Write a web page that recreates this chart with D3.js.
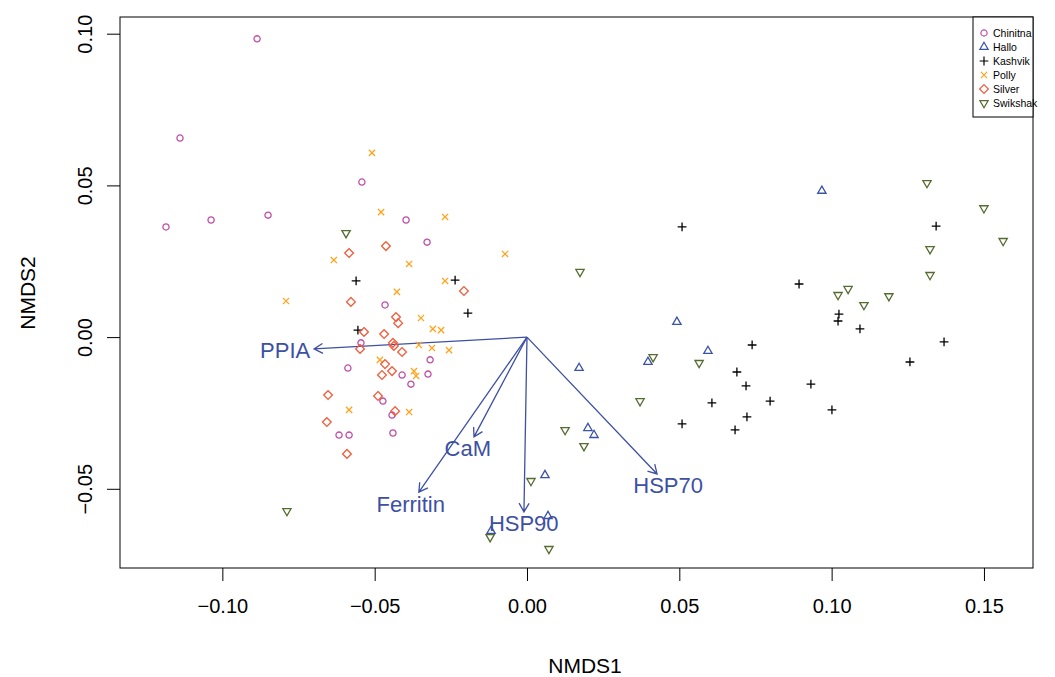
<!doctype html>
<html>
<head>
<meta charset="utf-8">
<style>
    body { margin: 0; background: #fff; }
    text { font-family: "Liberation Sans", Arial, sans-serif; }
</style>
<script src="https://d3js.org/d3.v7.min.js"></script>
</head>
<body>
<svg id="chart" width="1055" height="677"></svg>
<script>
    // site groups and their NMDS scores [NMDS1, NMDS2]
    var sites = ["Chinitna", "Hallo", "Kashvik", "Polly", "Silver", "Swikshak"];
    var siteColors = ["#bd4fa7", "#3b53a4", "#000000", "#ffa31a", "#f25c3c", "#556b2f"];
    var siteShapes = ["circle", "triangleUp", "plus", "cross", "diamond", "triangleDown"];

    var chinitna = [[-0.0886,0.0983],[-0.1139,0.0656],[-0.1185,0.0363],[-0.1037,0.0386],[-0.0850,0.0402],
        [-0.0542,0.0511],[-0.0397,0.0386],[-0.0328,0.0313],[-0.0466,0.0106],[-0.0545,-0.0019],
        [-0.0588,-0.0102],[-0.0318,-0.0075],[-0.0410,-0.0125],[-0.0325,-0.0122],[-0.0381,-0.0155],
        [-0.0473,-0.0211],[-0.0443,-0.0257],[-0.0617,-0.0323],[-0.0584,-0.0323],[-0.0440,-0.0316]];
    var hallo = [[0.0968,0.0482],[0.0492,0.0050],[0.0594,-0.0046],[0.0397,-0.0082],[0.0171,-0.0102],
        [0.0200,-0.0300],[0.0220,-0.0323],[0.0059,-0.0455],[0.0069,-0.0590],[-0.0118,-0.0639]];
    var kashvik = [[-0.0561,0.0185],[-0.0236,0.0188],[-0.0194,0.0079],[-0.0555,0.0023],[0.0509,0.0363],
        [0.0739,-0.0026],[0.0689,-0.0115],[0.0719,-0.0161],[0.0607,-0.0217],[0.0798,-0.0211],
        [0.0509,-0.0286],[0.0722,-0.0263],[0.0683,-0.0306],[0.0893,0.0175],[0.1024,0.0076],
        [0.1021,0.0053],[0.1093,0.0027],[0.0932,-0.0155],[0.1001,-0.0240],[0.1343,0.0366],
        [0.1369,-0.0016],[0.1257,-0.0082]];
    var polly = [[-0.0509,0.0607],[-0.0479,0.0412],[-0.0269,0.0396],[-0.0634,0.0254],[-0.0072,0.0274],
        [-0.0387,0.0241],[-0.0791,0.0119],[-0.0427,0.0149],[-0.0269,0.0185],[-0.0348,0.0063],
        [-0.0309,0.0027],[-0.0282,0.0023],[-0.0355,-0.0026],[-0.0312,-0.0036],[-0.0256,-0.0043],
        [-0.0483,-0.0075],[-0.0371,-0.0112],[-0.0364,-0.0128],[-0.0584,-0.0240],[-0.0387,-0.0247]];
    var silver = [[-0.0463,0.0300],[-0.0584,0.0277],[-0.0207,0.0152],[-0.0578,0.0116],[-0.0430,0.0066],
        [-0.0423,0.0046],[-0.0535,0.0017],[-0.0469,0.0010],[-0.0440,-0.0019],[-0.0437,-0.0029],
        [-0.0410,-0.0049],[-0.0548,-0.0039],[-0.0466,-0.0089],[-0.0443,-0.0112],[-0.0476,-0.0125],
        [-0.0653,-0.0191],[-0.0489,-0.0194],[-0.0433,-0.0244],[-0.0657,-0.0280],[-0.0591,-0.0385]];
    var swikshak = [[-0.0594,0.0343],[-0.0788,-0.0573],[0.0174,0.0215],[0.0414,-0.0066],[0.0565,-0.0085],
        [0.0371,-0.0211],[0.0125,-0.0306],[0.0187,-0.0359],[0.0013,-0.0474],[-0.0121,-0.0659],
        [0.0072,-0.0698],[0.1021,0.0139],[0.1054,0.0159],[0.1106,0.0106],[0.1188,0.0135],
        [0.1313,0.0508],[0.1500,0.0425],[0.1563,0.0317],[0.1323,0.0290],[0.1323,0.0205]];
    var siteScores = [chinitna, hallo, kashvik, polly, silver, swikshak];

    // fitted gene vectors
    var genes = ["PPIA", "CaM", "Ferritin", "HSP90", "HSP70"];
    var geneX = [-0.0699, -0.0174, -0.0355, -0.0010, 0.0427];
    var geneY = [-0.0039, -0.0329, -0.0511, -0.0576, -0.0451];

    var xTicks = [-0.10, -0.05, 0.00, 0.05, 0.10, 0.15];
    var yTicks = [-0.05, 0.00, 0.05, 0.10];

    var svg = d3.select("#chart"),
        pLeft = 120, pRight = 1033, pTop = 17, pBottom = 568;

    var x = d3.scaleLinear().domain([-0.1336, 0.1661]).range([pLeft, pRight]),
        y = d3.scaleLinear().domain([-0.0761, 0.1055]).range([pBottom, pTop]);

    var fmt = d3.format(".2f");

    // axes
    var gx = svg.append("g")
        .attr("transform", "translate(0," + pBottom + ")")
        .call(d3.axisBottom(x).tickValues(xTicks).tickFormat(fmt).tickSize(13).tickPadding(18));
    gx.select(".domain").remove();
    gx.selectAll("text").attr("font-size", "20px").attr("fill", "#000");
    gx.selectAll("line").attr("stroke", "#000");

    var gy = svg.append("g")
        .attr("transform", "translate(" + pLeft + ",0)")
        .call(d3.axisLeft(y).tickValues(yTicks).tickFormat(fmt).tickSize(13));
    gy.select(".domain").remove();
    gy.selectAll("line").attr("stroke", "#000");
    gy.selectAll("text")
        .attr("font-size", "20px")
        .attr("fill", "#000")
        .attr("x", null).attr("dy", null)
        .attr("text-anchor", "middle")
        .attr("transform", "translate(-28,0) rotate(-90)")
        .attr("y", 0);

    svg.append("rect")
        .attr("x", pLeft).attr("y", pTop)
        .attr("width", pRight - pLeft).attr("height", pBottom - pTop)
        .attr("fill", "none").attr("stroke", "#000").attr("stroke-width", 1);

    svg.append("text")
        .attr("x", 585).attr("y", 673)
        .attr("text-anchor", "middle")
        .attr("font-size", "21px")
        .text("NMDS1");

    svg.append("text")
        .attr("transform", "translate(35,293) rotate(-90)")
        .attr("text-anchor", "middle")
        .attr("font-size", "21px")
        .text("NMDS2");

    // R-like point symbols
    var s = 3.1;
    function symbolPath(shape) {
        var r, t;
        switch (shape) {
            case "circle":
                return "M" + s + ",0A" + s + "," + s + " 0 1,1 " + (-s) + ",0A" + s + "," + s + " 0 1,1 " + s + ",0Z";
            case "triangleUp":
                r = 1.55 * s; t = r * Math.sqrt(3) / 2;
                return "M0," + (-r) + "L" + t + "," + (r / 2) + "L" + (-t) + "," + (r / 2) + "Z";
            case "triangleDown":
                r = 1.55 * s; t = r * Math.sqrt(3) / 2;
                return "M0," + r + "L" + t + "," + (-r / 2) + "L" + (-t) + "," + (-r / 2) + "Z";
            case "plus":
                r = 1.414 * s;
                return "M" + (-r) + ",0H" + r + "M0," + (-r) + "V" + r;
            case "cross":
                return "M" + (-s) + "," + (-s) + "L" + s + "," + s + "M" + (-s) + "," + s + "L" + s + "," + (-s);
            case "diamond":
                r = 1.414 * s;
                return "M0," + (-r) + "L" + r + ",0L0," + r + "L" + (-r) + ",0Z";
        }
    }

    // gene arrows
    var blue = "#3d50a3";
    var origin = [x(0), y(0)];
    var ga = svg.append("g");
    genes.forEach(function(name, i) {
        var x1 = x(geneX[i]), y1 = y(geneY[i]);
        var ang = Math.atan2(y1 - origin[1], x1 - origin[0]);
        var len = 10, a = Math.PI / 6;
        ga.append("path")
            .attr("d", "M" + origin[0] + "," + origin[1] + "L" + x1 + "," + y1 +
                "M" + (x1 - len * Math.cos(ang - a)) + "," + (y1 - len * Math.sin(ang - a)) +
                "L" + x1 + "," + y1 +
                "L" + (x1 - len * Math.cos(ang + a)) + "," + (y1 - len * Math.sin(ang + a)))
            .attr("fill", "none").attr("stroke", blue).attr("stroke-width", 1.3);
    });

    // points
    siteScores.forEach(function(pts, k) {
        svg.append("g").selectAll("path")
            .data(pts)
            .enter().append("path")
            .attr("transform", function(d) { return "translate(" + x(d[0]) + "," + y(d[1]) + ")"; })
            .attr("d", symbolPath(siteShapes[k]))
            .attr("fill", "none")
            .attr("stroke", siteColors[k])
            .attr("stroke-width", 1.3);
    });

    // gene labels, placed beyond the arrow head like vegan's ordiArrowTextXY
    genes.forEach(function(name, i) {
        var x1 = x(geneX[i]), y1 = y(geneY[i]);
        var t = ga.append("text").attr("font-size", "22px").attr("fill", blue).text(name);
        var w = t.node().getComputedTextLength(), h = 15.5;
        var dx = x1 - origin[0], dy = y1 - origin[1], b = dy / dx;
        var ox = Math.sign(dx) * (w / 2 + h / 4), oy = 0.75 * h * Math.sign(dy);
        var move = oy / b;
        if (isFinite(move) && Math.abs(move) <= Math.abs(ox)) ox = move;
        else oy = b * ox;
        t.attr("x", x1 + ox).attr("y", y1 + oy + h / 2).attr("text-anchor", "middle");
    });

    // legend
    var lgLeft = 973;
    var lg = svg.append("g").attr("transform", "translate(" + lgLeft + "," + pTop + ")");
    lg.append("rect").attr("width", pRight - lgLeft).attr("height", 100)
        .attr("fill", "#fff").attr("stroke", "#000").attr("stroke-width", 1);
    sites.forEach(function(name, k) {
        var yy = 16 + k * 14;
        lg.append("path")
            .attr("transform", "translate(11," + yy + ")")
            .attr("d", symbolPath(siteShapes[k]))
            .attr("fill", "none").attr("stroke", siteColors[k]).attr("stroke-width", 1.2);
        lg.append("text")
            .attr("x", 20).attr("y", yy + 4)
            .attr("font-size", "10.5px")
            .text(name);
    });
</script>
</body>
</html>
